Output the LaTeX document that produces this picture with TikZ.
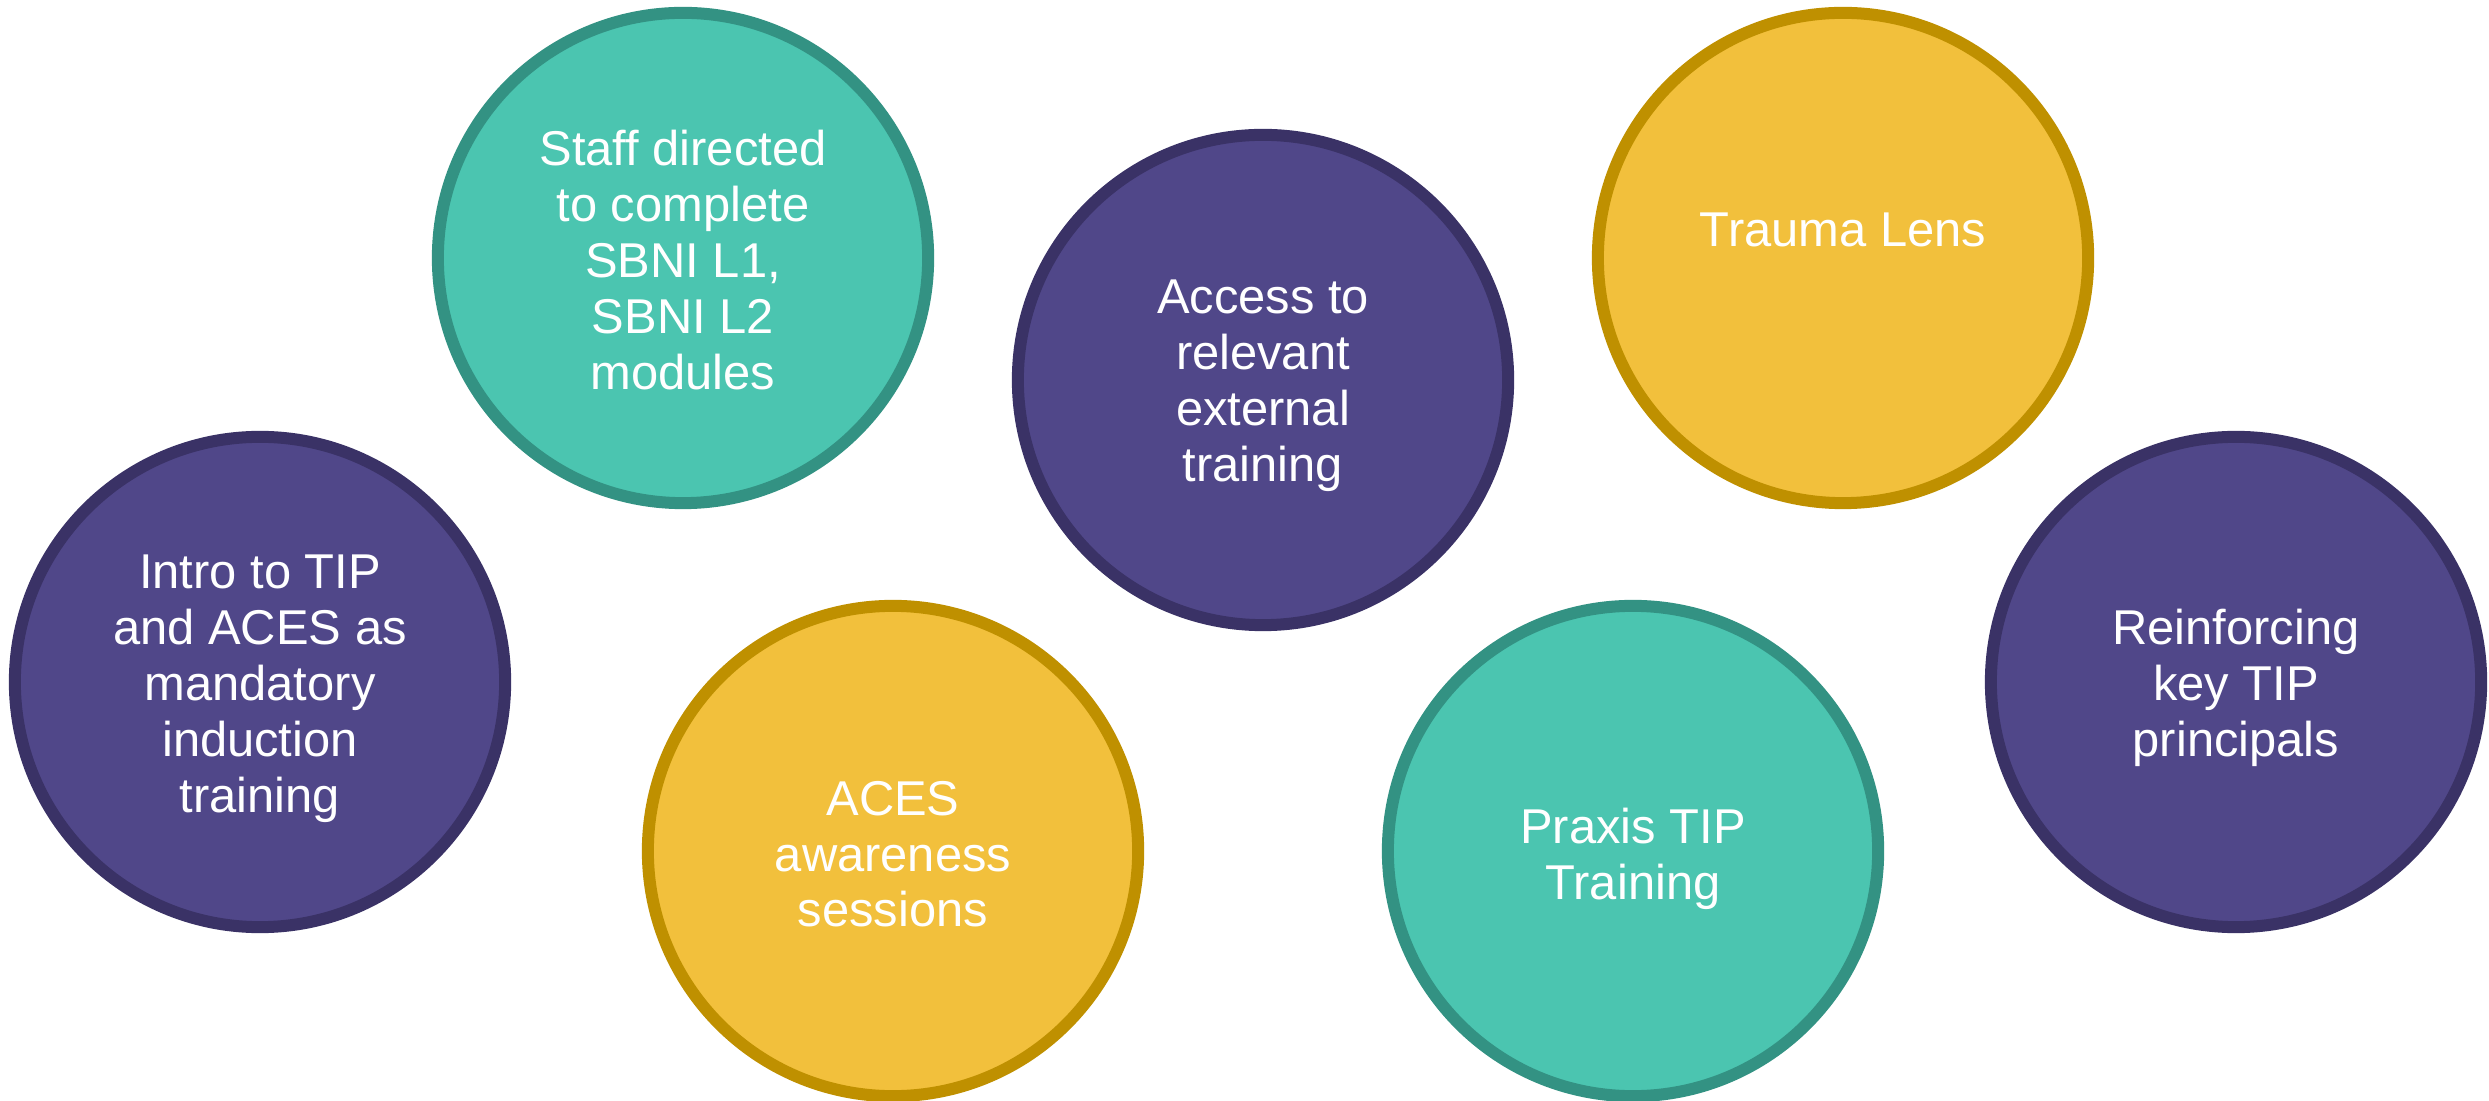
\documentclass[tikz,border=0pt]{standalone}
\usepackage{fontspec}
\setmainfont{Liberation Sans}
\definecolor{pfill}{RGB}{80,71,137}
\definecolor{pline}{RGB}{58,50,102}
\definecolor{tfill}{RGB}{75,197,176}
\definecolor{tline}{RGB}{51,146,131}
\definecolor{yfill}{RGB}{242,192,60}
\definecolor{yline}{RGB}{191,144,0}
\tikzset{
  ball/.style={circle, minimum size=4.9cm, inner sep=0pt, line width=0.12cm},
  pball/.style={ball, fill=pfill, draw=pline},
  tball/.style={ball, fill=tfill, draw=tline},
  yball/.style={ball, fill=yfill, draw=yline},
  lbl/.style={text=white, align=center, inner sep=0pt, text depth=0pt,
    font=\fontsize{13.9}{15.9}\selectfont}
}
\begin{document}
\begin{tikzpicture}[x=0.01cm, y=-0.01cm]
\useasboundingbox (0,0) rectangle (2489,1101);
\node[pball] (c1) at (260,682) {};
\node[tball] (c2) at (683,258) {};
\node[yball] (c3) at (893,851) {};
\node[pball] (c4) at (1263,380) {};
\node[yball] (c5) at (1843,258) {};
\node[tball] (c6) at (1633,851) {};
\node[pball] (c7) at (2236,682) {};
\node[lbl] (t1) at (260,684) {Intro to TIP\\and ACES as\\mandatory\\induction\\training};
\node[lbl] (t2) at (683,260) {Staff directed\\to complete\\SBNI L1,\\SBNI L2\\modules};
\node[lbl] (t3) at (893,854) {ACES\\awareness\\sessions};
\node[lbl] (t4) at (1263,381) {Access to\\relevant\\external\\training};
\node[lbl] (t5) at (1843,230) {Trauma Lens};
\node[lbl] (t6) at (1633,854) {Praxis TIP\\Training};
\node[lbl] (t7) at (2236,683) {Reinforcing\\key TIP\\principals};
\end{tikzpicture}
\end{document}
